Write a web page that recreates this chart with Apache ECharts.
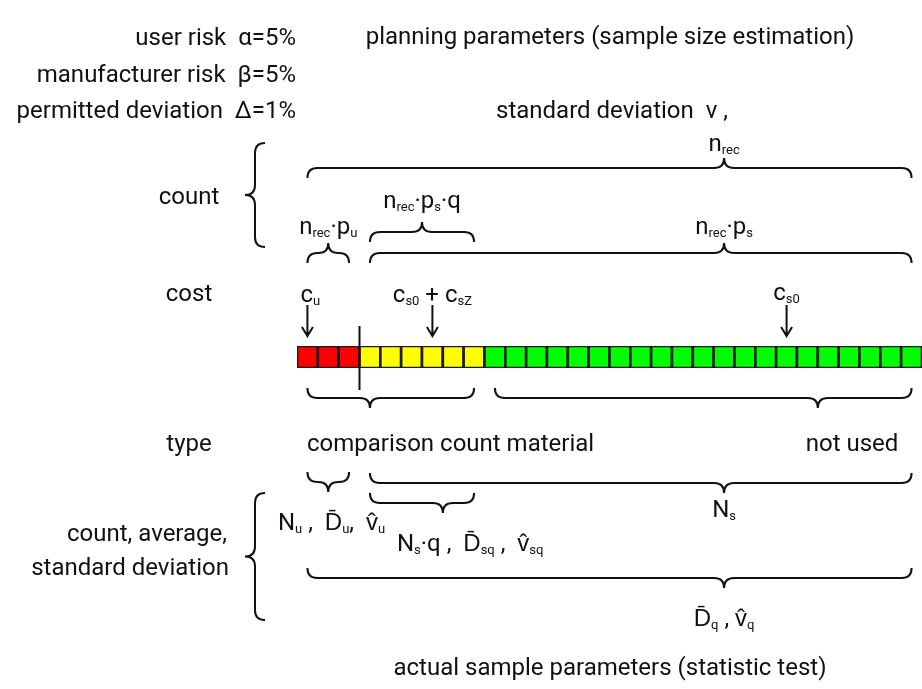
<!DOCTYPE html>
<html><head><meta charset="utf-8">
<script src="https://cdn.jsdelivr.net/npm/echarts@6/dist/echarts.min.js"></script>
<style>html,body{margin:0;padding:0;background:#fff}#c{width:922px;height:689px}</style>
</head><body><div id="c"></div>
<script>
// ---- data ----
const cellGroupNames = ['user risk (u)', 'comparison (sq)', 'standard (s)'];
const cellGroupCounts = [3, 6, 21];
const cellGroupColors = ['#ff0000', '#ffff00', '#00ff00'];

// build cells: [index, group]
const cells = [];
cellGroupCounts.forEach((n, g) => { for (let k = 0; k < n; k++) cells.push([cells.length, g]); });

const FONT = 'Roboto, "Liberation Sans", sans-serif';
const INK = '#111';

function hBrace(X, a, b, m, y, tipsDown) {
  const x1 = X(a), x2 = X(b), xm = X(m), s = tipsDown ? 1 : -1, h = 10, r = 10;
  return `M${x1},${y + s * h} Q${x1},${y} ${x1 + r},${y} L${xm - r},${y} Q${xm},${y} ${xm},${y - s * h} Q${xm},${y} ${xm + r},${y} L${x2 - r},${y} Q${x2},${y} ${x2},${y + s * h}`;
}
function vBrace(x, y1, y2) {
  const ym = (y1 + y2) / 2, w = 10, r = 10;
  return `M${x + w},${y1} Q${x},${y1} ${x},${y1 + r} L${x},${ym - r} Q${x},${ym} ${x - w},${ym} Q${x},${ym} ${x},${ym + r} L${x},${y2 - r} Q${x},${y2} ${x + w},${y2}`;
}
function arrow(X, c) {
  const x = X(c);
  return `M${x},305 L${x},336 M${x - 5.5},327 L${x},336 L${x + 5.5},327`;
}

const rich = {
  m: {fontFamily: FONT, fontSize: 24, lineHeight: 28, verticalAlign: 'bottom', fill: INK},
  s: {fontFamily: FONT, fontSize: 13, lineHeight: 12, verticalAlign: 'bottom', fill: INK}
};
function toRich(str) {
  let out = '', re = /_\{([^}]*)\}/g, last = 0, mt;
  while ((mt = re.exec(str))) {
    if (mt.index > last) out += `{m|${str.slice(last, mt.index)}}`;
    out += `{s|${mt[1]}}`;
    last = re.lastIndex;
  }
  if (last < str.length) out += `{m|${str.slice(last)}}`;
  return out;
}
const D = 'D\u0304', V = 'v\u0302';

function annotations(X) {
  const paths = [
    hBrace(X, 0.5, 29.5, 20.5, 168, true),
    hBrace(X, 3.5, 8.5, 6, 232, true),
    hBrace(X, 0.5, 2.5, 1.5, 253, true),
    hBrace(X, 3.5, 29.5, 20.5, 253, true),
    hBrace(X, 0.5, 8.5, 3.5, 398, false),
    hBrace(X, 9.5, 29.5, 25, 398, false),
    hBrace(X, 0.5, 2.5, 1.5, 482, false),
    hBrace(X, 3.5, 29.5, 20.5, 483, false),
    hBrace(X, 3.5, 8.5, 7, 503, false),
    hBrace(X, 0.5, 29.5, 20.5, 578, false),
    vBrace(255, 143, 247),
    vBrace(255, 493, 620),
    arrow(X, 0.5), arrow(X, 6.5), arrow(X, 23.5),
    `M${X(3)},326 L${X(3)},390`
  ];
  const texts = [
    [610, 36, 'center', 'planning parameters (sample size estimation)'],
    [296, 37, 'right', 'user risk  α=5%'],
    [296, 74, 'right', 'manufacturer risk  β=5%'],
    [296, 110, 'right', 'permitted deviation  Δ=1%'],
    [496, 110, 'left', 'standard deviation  v ,'],
    [X(20.5), 143, 'center', 'n_{rec}'],
    [189, 196, 'center', 'count'],
    [X(1.5), 226, 'center', 'n_{rec}·p_{u}'],
    [X(6), 200, 'center', 'n_{rec}·p_{s}·q'],
    [X(20.5), 226, 'center', 'n_{rec}·p_{s}'],
    [189, 293, 'center', 'cost'],
    [X(0.5) + 3, 294, 'center', 'c_{u}'],
    [X(6.5), 294, 'center', 'c_{s0} + c_{sZ}'],
    [X(23.5), 292, 'center', 'c_{s0}'],
    [189, 443, 'center', 'type'],
    [307, 443, 'left', 'comparison count material'],
    [852, 443, 'center', 'not used'],
    [227, 533, 'right', 'count, average,'],
    [229, 567, 'right', 'standard deviation'],
    [278, 522, 'left', `N_{u} ,  ${D}_{u},  ${V}_{u}`],
    [397, 543, 'left', `N_{s}·q ,  ${D}_{sq} ,  ${V}_{sq}`],
    [X(20.5), 509, 'center', 'N_{s}'],
    [X(20.5), 618, 'center', `${D}_{q} , ${V}_{q}`],
    [610, 667, 'center', 'actual sample parameters (statistic test)']
  ];
  const children = [];
  paths.forEach(p => children.push({type: 'path', shape: {pathData: p}, style: {fill: 'none', stroke: INK, lineWidth: 2}}));
  texts.forEach(t => children.push({type: 'text', x: t[0], y: t[1],
    style: {text: toRich(t[3]), align: t[2], verticalAlign: 'middle', fontFamily: FONT, fontSize: 24, fill: INK, rich: rich}}));
  return children;
}

const chart = echarts.init(document.getElementById('c'), null, {renderer: 'canvas'});
chart.setOption({
  animation: false,
  grid: {left: 297, top: 346, width: 630, height: 22},
  xAxis: {type: 'value', min: 0, max: 30, show: false},
  yAxis: {type: 'category', data: ['row'], show: false},
  series: [{
    type: 'custom', clip: true, data: cells, silent: true,
    renderItem: function (params, api) {
      const i = api.value(0), g = api.value(1);
      const p0 = api.coord([i, 0]), p1 = api.coord([i + 1, 0]);
      const h = api.size([0, 1])[1];
      return {type: 'rect', shape: {x: p0[0], y: p0[1] - h / 2, width: p1[0] - p0[0], height: h},
        style: {fill: cellGroupColors[g], stroke: '#1a1a1a', lineWidth: 2.6}};
    }
  }, {
    type: 'custom', clip: false, data: [[0, 0]], silent: true,
    renderItem: function (params, api) {
      const X = v => api.coord([v, 0])[0];
      return {type: 'group', children: annotations(X)};
    }
  }]
});
</script></body></html>
